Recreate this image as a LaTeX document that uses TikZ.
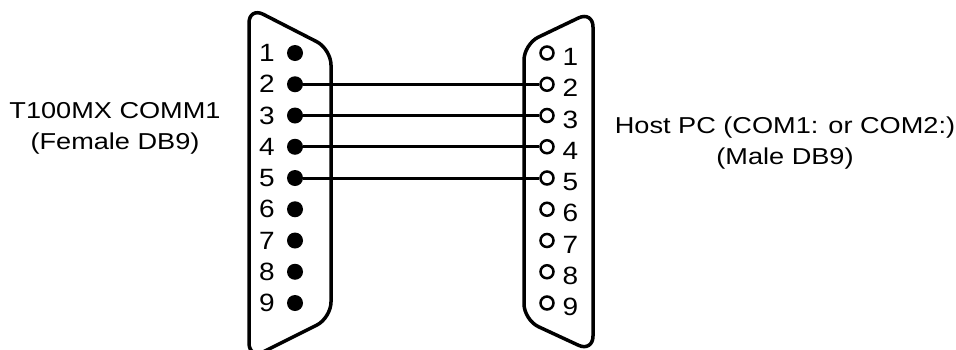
\documentclass[tikz,border=0pt]{standalone}
\usepackage{fontspec}
\setmainfont{Liberation Sans}
\usepackage{tikz}
\usetikzlibrary{positioning}
\tikzstyle{shell} = [line width=3.5pt, rounded corners=16pt]
\tikzstyle{fpin} = [circle, fill=black, minimum size=16pt, inner sep=0pt]
\tikzstyle{mpin} = [circle, draw=black, line width=2.5pt, minimum size=13pt, inner sep=0pt]
\tikzstyle{pinnum} = [inner sep=0pt, xscale=1.12, transform shape, font=\fontsize{25}{25}\selectfont]
\tikzstyle{caption} = [align=center, inner sep=0pt, xscale=1.18, transform shape, font=\fontsize{23}{31}\selectfont]
\tikzstyle{wire} = [line width=3pt]

\begin{document}
\begin{tikzpicture}[x=1pt, y=-1pt, node distance=31.25pt]
    \clip (0,0) rectangle (956,349);
    % connector shells
    \draw[shell] (249,200) -- (249,7) -- (331,49) -- (331,318) -- (249,359) -- cycle;
    \draw[shell] (593,200) -- (593,11) -- (524,44) -- (524,320) -- (593,352) -- cycle;
    %
    \node(f1)[fpin] at (295,53) {};
    \node(f2)[fpin, below of=f1] {};
    \node(f3)[fpin, below of=f2] {};
    \node(f4)[fpin, below of=f3] {};
    \node(f5)[fpin, below of=f4] {};
    \node(f6)[fpin, below of=f5] {};
    \node(f7)[fpin, below of=f6] {};
    \node(f8)[fpin, below of=f7] {};
    \node(f9)[fpin, below of=f8] {};
    %
    \node(m1)[mpin] at (547,53) {};
    \node(m2)[mpin, below of=m1] {};
    \node(m3)[mpin, below of=m2] {};
    \node(m4)[mpin, below of=m3] {};
    \node(m5)[mpin, below of=m4] {};
    \node(m6)[mpin, below of=m5] {};
    \node(m7)[mpin, below of=m6] {};
    \node(m8)[mpin, below of=m7] {};
    \node(m9)[mpin, below of=m8] {};
    %
    \node(fn1)[pinnum, node distance=25pt, left of=f1] {1};
    \node(fn2)[pinnum, node distance=25pt, left of=f2] {2};
    \node(fn3)[pinnum, node distance=25pt, left of=f3] {3};
    \node(fn4)[pinnum, node distance=25pt, left of=f4] {4};
    \node(fn5)[pinnum, node distance=25pt, left of=f5] {5};
    \node(fn6)[pinnum, node distance=25pt, left of=f6] {6};
    \node(fn7)[pinnum, node distance=25pt, left of=f7] {7};
    \node(fn8)[pinnum, node distance=25pt, left of=f8] {8};
    \node(fn9)[pinnum, node distance=25pt, left of=f9] {9};
    %
    \node(mn1)[pinnum, node distance=21pt, right of=m1, yshift=-4pt] {1};
    \node(mn2)[pinnum, node distance=21pt, right of=m2, yshift=-4pt] {2};
    \node(mn3)[pinnum, node distance=21pt, right of=m3, yshift=-4pt] {3};
    \node(mn4)[pinnum, node distance=21pt, right of=m4, yshift=-4pt] {4};
    \node(mn5)[pinnum, node distance=21pt, right of=m5, yshift=-4pt] {5};
    \node(mn6)[pinnum, node distance=21pt, right of=m6, yshift=-4pt] {6};
    \node(mn7)[pinnum, node distance=21pt, right of=m7, yshift=-4pt] {7};
    \node(mn8)[pinnum, node distance=21pt, right of=m8, yshift=-4pt] {8};
    \node(mn9)[pinnum, node distance=21pt, right of=m9, yshift=-4pt] {9};
    %
    \draw[wire](f2) -- (m2);
    \draw[wire](f3) -- (m3);
    \draw[wire](f4) -- (m4);
    \draw[wire](f5) -- (m5);
    %
    \node(female)[caption] at (115,128) {T100MX COMM1\\(Female DB9)};
    \node(male)[caption] at (785,143) {Host PC (COM1: or COM2:)\\(Male DB9)};
  \end{tikzpicture}
\end{document}
